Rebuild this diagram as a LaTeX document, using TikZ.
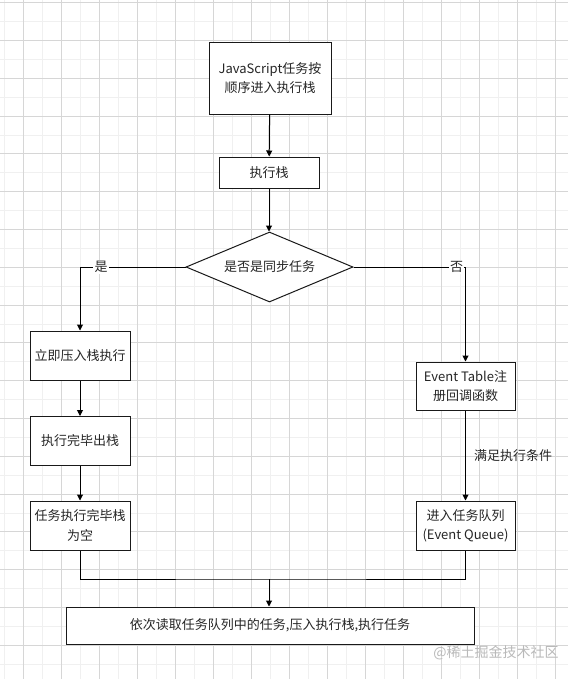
\documentclass[tikz,border=0pt]{standalone}
\usepackage{fontspec}
\setmainfont{Noto Sans CJK SC}
\usepackage{tikz}
\usetikzlibrary{arrows.meta,positioning,calc,shapes.geometric}

\begin{document}
\begin{tikzpicture}[x=0.75pt, y=-0.75pt,
      box/.style={draw=black!90, line width=0.75pt, fill=white, text=black!85,
                  inner sep=2pt, align=center, font=\fontsize{9.75}{14.5}\selectfont},
      dec/.style={draw=black!90, line width=0.75pt, fill=white, text=black!85, diamond,
                  aspect=2.4, inner sep=0pt, minimum width=125.25pt, minimum height=52.5pt,
                  font=\fontsize{9.75}{14.5}\selectfont},
      lbl/.style={text=black!85, font=\fontsize{9.75}{14.5}\selectfont, inner sep=1pt},
      arr/.style={-{Triangle[length=4.5pt,width=4.5pt]}, line width=0.75pt, black},
      ln/.style={line width=0.75pt, black},
      minor/.style={draw=gray!12, line width=0.75pt},
      major/.style={draw=gray!32, line width=0.75pt}
    ]
      \useasboundingbox (0,0) rectangle (568,679);
      \fill[white] (0,0) rectangle (568,679);
      \foreach \i in {0,...,29} \draw[minor] ({4+19*\i},0) -- ({4+19*\i},679);
      \foreach \i in {0,...,35} \draw[minor] (0,{2.7+18.9*\i}) -- (568,{2.7+18.9*\i});
      \foreach \i in {0,...,14} \draw[major] ({23+38*\i},0) -- ({23+38*\i},679);
      \foreach \i in {0,...,17} \draw[major] (0,{2.7+37.8*\i}) -- (568,{2.7+37.8*\i});

      \node[box, minimum width=91.5pt, minimum height=54pt] (js) at (270,78) {JavaScript任务按\\顺序进入执行栈};
      \node[box, minimum width=75pt, minimum height=23.25pt] (stack) at (269,172.5) {执行栈};
      \node[dec] (sync) at (269.5,267) {是否是同步任务};
      \node[box, minimum width=75pt, minimum height=36.75pt] (push) at (80,355.5) {立即压入栈执行};
      \node[box, minimum width=75pt, minimum height=36.75pt] (pop) at (80,441) {执行完毕出栈};
      \node[box, minimum width=75pt, minimum height=36.75pt] (empty) at (80,525.5) {任务执行完毕栈\\为空};
      \node[box, minimum width=74.25pt, minimum height=36pt] (table) at (465.5,386) {Event Table注\\册回调函数};
      \node[box, minimum width=74.25pt, minimum height=36.75pt] (queue) at (465.5,525.5) {进入任务队列\\(Event Queue)};
      \node[box, minimum width=306pt, minimum height=27.75pt] (read) at (270,625.5) {依次读取任务队列中的任务,压入执行栈,执行任务};
      \coordinate (join) at (269,579);

      \draw[arr] (js) -- (stack);
      \draw[arr] (stack.south) -- (stack.south |- sync.north);
      \draw[arr] (sync.west) -| node[lbl, fill=white, pos=0.4] {是} (push.north);
      \draw[arr] (sync.east) -| node[lbl, fill=white, pos=0.46] {否} (table.north);
      \draw[arr] (push) -- (pop);
      \draw[arr] (pop) -- (empty);
      \draw[arr] (table) -- node[lbl, right=5pt] {满足执行条件} (queue);
      \draw[ln] (empty.south) |- (join) -| (queue.south);
      \draw[arr] (join) -- (read.north -| join);

      \node[text=gray!55, font=\fontsize{10.5}{12}\selectfont] (mark) at (496,653) {@稀土掘金技术社区};
    \end{tikzpicture}
\end{document}
